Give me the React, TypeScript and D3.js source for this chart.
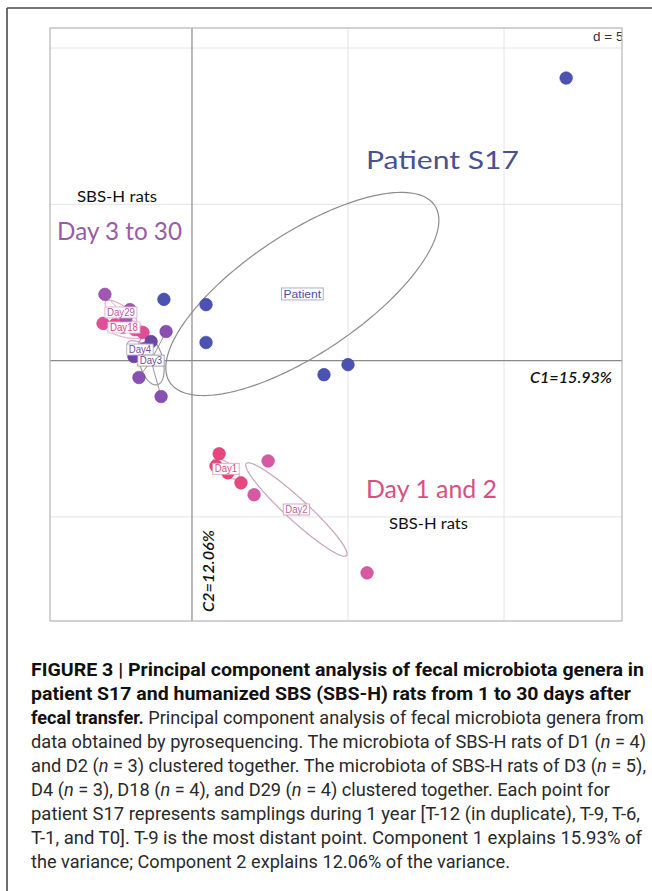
import React from 'react';
import * as d3 from 'd3';

// ---------- data (PCA coordinates, units of the d = 5 grid) ----------
const patientX = [-0.9, 0.45, 0.45, 11.99, 4.23, 5.0];
const patientY = [1.96, 1.79, 0.58, 9.04, -0.45, -0.13];
const day1X = [0.87, 1.15, 1.57, 0.77];
const day1Y = [-2.98, -3.59, -3.91, -3.37];
const day2X = [2.44, 1.99, 5.61];
const day2Y = [-3.21, -4.29, -6.79];
const day3X = [-0.83, -1.7, -0.99, -1.51, -1.54];
const day3Y = [0.93, -0.54, -1.15, 0.38, 0.38];
const day4X = [-1.31, -1.83, -1.86];
const day4Y = [0.61, 0.32, 0.13];
const day18X = [-2.85, -2.47, -1.57, -1.83];
const day18Y = [1.19, 1.15, 0.9, 0.99];
const day29X = [-2.79, -1.99, -2.12, -2.21];
const day29Y = [2.12, 1.63, 1.35, 1.06];

const groupLabels = ['Patient', 'Day1', 'Day2', 'Day3', 'Day4', 'Day18', 'Day29'];
const groupXs = [patientX, day1X, day2X, day3X, day4X, day18X, day29X];
const groupYs = [patientY, day1Y, day2Y, day3Y, day4Y, day18Y, day29Y];
// ellipse semi-axes and orientation (degrees)
const ellipseA = [5.1, 0.5, 2.18, 0.8, 0.45, 0.75, 0.6];
const ellipseB = [1.92, 0.2, 0.35, 0.38, 0.2, 0.3, 0.22];
const ellipseAngle = [33.7, -35, -42.5, -75, -30, -15, -35];
const gridStep = 5;

const captionLines = [
  '**FIGURE 3 | Principal component analysis of fecal microbiota genera in**',
  '**patient S17 and humanized SBS (SBS-H) rats from 1 to 30 days after**',
  '**fecal transfer.** Principal component analysis of fecal microbiota genera from',
  'data obtained by pyrosequencing. The microbiota of SBS-H rats of D1 (_n_ = 4)',
  'and D2 (_n_ = 3) clustered together. The microbiota of SBS-H rats of D3 (_n_ = 5),',
  'D4 (_n_ = 3), D18 (_n_ = 4), and D29 (_n_ = 4) clustered together. Each point for',
  'patient S17 represents samplings during 1 year [T-12 (in duplicate), T-9, T-6,',
  'T-1, and T0]. T-9 is the most distant point. Component 1 explains 15.93% of',
  'the variance; Component 2 explains 12.06% of the variance.',
];

// ---------- styles ----------
const pointColors = ['#4b52b4', '#e8467c', '#d659a4', '#8a4fb2', '#6a46a6', '#e24d98', '#a355b3'];
const textColors = ['#4a509e', '#d9507f', '#c25f9c', '#6a4a9a', '#7a4aa0', '#d24a8a', '#b45aa6'];
const ellipseColors = ['#8c8c8c', '#e3a6c0', '#c9a2bb', '#9a9a9a', '#b9a3cc', '#e8b7d2', '#d8b0d0'];
const starGroups = [3, 4, 5, 6];
const captionRight = [644, 631, 644, 646, 646, 610, 640, 642, 510];

const W = 652;
const H = 891;
const plot = { left: 50, right: 622, top: 28, bottom: 621 };

const xs = d3.scaleLinear().domain([-4.55, 13.78]).range([plot.left, plot.right]);
const ys = d3.scaleLinear().domain([-8.33, 10.64]).range([plot.bottom, plot.top]);

function ellipsePath(cx: number, cy: number, a: number, b: number, angDeg: number) {
  const th = (angDeg * Math.PI) / 180;
  const pts: [number, number][] = d3.range(0, 2 * Math.PI + 0.001, Math.PI / 90).map((t) => {
    const dx = a * Math.cos(t);
    const dy = b * Math.sin(t);
    const X = cx + dx * Math.cos(th) - dy * Math.sin(th);
    const Y = cy + dx * Math.sin(th) + dy * Math.cos(th);
    return [xs(X), ys(Y)];
  });
  return d3.line().curve(d3.curveLinearClosed)(pts) || '';
}

function parseLine(line: string) {
  const parts = line.split(/(\*\*[^*]+\*\*|_[^_]+_)/).filter((p) => p.length);
  return parts.map((p) => {
    if (p.startsWith('**')) return { t: p.slice(2, -2), w: 'bold', s: 'normal' };
    if (p.startsWith('_')) return { t: p.slice(1, -1), w: 'normal', s: 'italic' };
    return { t: p, w: 'normal', s: 'normal' };
  });
}

export default function App() {
  const xTicks = d3.range(Math.ceil(xs.domain()[0] / gridStep) * gridStep, xs.domain()[1], gridStep);
  const yTicks = d3.range(Math.ceil(ys.domain()[0] / gridStep) * gridStep, ys.domain()[1], gridStep);
  const groups = groupLabels.map((lab, i) => {
    const cx = d3.mean(groupXs[i]) as number;
    const cy = d3.mean(groupYs[i]) as number;
    return { lab, i, cx, cy, pts: groupXs[i].map((x, k) => [x, groupYs[i][k]]) };
  });
  const drawOrder = [6, 5, 4, 3, 1, 2, 0];
  const bigFont = "Lato, 'Open Sans', sans-serif";
  return (
    <svg width={W} height={H} style={{ position: 'absolute', left: 0, top: 0, background: '#fff' }}>
      <defs>
        <clipPath id="plotclip">
          <rect x={plot.left} y={plot.top} width={plot.right - plot.left} height={plot.bottom - plot.top} />
        </clipPath>
      </defs>
      <rect x={0} y={0} width={W} height={H} fill="#fff" />
      {/* figure frame */}
      <line x1={7} y1={8} x2={W} y2={8} stroke="#4a4a4a" strokeWidth={1.6} />
      <line x1={7} y1={8} x2={7} y2={H} stroke="#4a4a4a" strokeWidth={1.6} />

      <g clipPath="url(#plotclip)">
        {/* grid */}
        {xTicks.filter((v) => v !== 0).map((v) => (
          <line key={'gx' + v} x1={xs(v)} x2={xs(v)} y1={plot.top} y2={plot.bottom} stroke="#e4e4e4" strokeWidth={1} />
        ))}
        {yTicks.filter((v) => v !== 0).map((v) => (
          <line key={'gy' + v} x1={plot.left} x2={plot.right} y1={ys(v)} y2={ys(v)} stroke="#e4e4e4" strokeWidth={1} />
        ))}
        <line x1={xs(0)} x2={xs(0)} y1={plot.top} y2={plot.bottom} stroke="#8a8a8a" strokeWidth={1.2} />
        <line x1={plot.left} x2={plot.right} y1={ys(0)} y2={ys(0)} stroke="#8a8a8a" strokeWidth={1.2} />

        {/* ellipses */}
        {groups.map((g) => (
          <path key={'e' + g.lab} d={ellipsePath(g.cx, g.cy, ellipseA[g.i], ellipseB[g.i], ellipseAngle[g.i])}
            fill="none" stroke={ellipseColors[g.i]} strokeWidth={1.2} />
        ))}
        {/* stars */}
        {groups.filter((g) => starGroups.includes(g.i)).map((g) =>
          g.pts.map((p, k) => (
            <line key={'s' + g.lab + k} x1={xs(p[0])} y1={ys(p[1])} x2={xs(g.cx)} y2={ys(g.cy)}
              stroke={ellipseColors[g.i]} strokeWidth={1} />
          ))
        )}
        {/* points */}
        {drawOrder.map((gi) =>
          groups[gi].pts.map((p, k) => (
            <circle key={'p' + gi + '-' + k} cx={xs(p[0])} cy={ys(p[1])} r={6.3}
              fill={pointColors[gi]} stroke={d3.color(pointColors[gi])!.darker(0.4).toString()} strokeWidth={0.6} />
          ))
        )}
        {/* labels */}
        {drawOrder.map((gi) => {
          const g = groups[gi];
          const fs = gi === 0 ? 10.5 : 10;
          const w = g.lab.length * (gi === 0 ? 5.4 : 5.6) + 4;
          const h = gi === 0 ? 12 : 11;
          return (
            <g key={'l' + g.lab}>
              <rect x={xs(g.cx) - w / 2} y={ys(g.cy) - h / 2} width={w} height={h} fill="#fff"
                stroke={gi === 0 ? '#a5a7c4' : ellipseColors[gi]} strokeWidth={0.9} />
              <text x={xs(g.cx)} y={ys(g.cy) + 3.6} textAnchor="middle" fontFamily="'Liberation Sans', Arial, sans-serif"
                fontSize={fs} fill={textColors[gi]} textLength={w - 4} lengthAdjust="spacingAndGlyphs">{g.lab}</text>
            </g>
          );
        })}
        <text x={593} y={41} fontFamily="'Liberation Sans', Arial, sans-serif" fontSize={13.5} fill="#333">d = 5</text>
      </g>
      <rect x={plot.left} y={plot.top} width={plot.right - plot.left} height={plot.bottom - plot.top}
        fill="none" stroke="#b4b4b4" strokeWidth={1.2} />

      {/* annotations */}
      <text x={366} y={169} fontFamily={bigFont} fontSize={25} fill="#4a5192" textLength={153} lengthAdjust="spacingAndGlyphs">Patient S17</text>
      <text x={77} y={202} fontFamily={bigFont} fontSize={15.5} fill="#111" textLength={80} lengthAdjust="spacingAndGlyphs">SBS-H rats</text>
      <text x={57} y={240} fontFamily={bigFont} fontSize={25} fill="#9a5ca8" textLength={125} lengthAdjust="spacingAndGlyphs">Day 3 to 30</text>
      <text x={366} y={498} fontFamily={bigFont} fontSize={24.5} fill="#d9507f" textLength={131} lengthAdjust="spacingAndGlyphs">Day 1 and 2</text>
      <text x={389} y={529} fontFamily={bigFont} fontSize={15.5} fill="#111" textLength={79} lengthAdjust="spacingAndGlyphs">SBS-H rats</text>
      <text x={530} y={383} fontFamily={bigFont} fontSize={15} fontStyle="italic" fontWeight={600} fill="#111" textLength={82} lengthAdjust="spacingAndGlyphs">C1=15.93%</text>
      <text transform="translate(214,612) rotate(-90)" fontFamily={bigFont} fontSize={15} fontStyle="italic" fontWeight={600} fill="#111" textLength={82} lengthAdjust="spacingAndGlyphs">C2=12.06%</text>

      {/* caption */}
      {captionLines.map((line, li) => (
        <text key={'c' + li} x={31} y={676 + li * 24} fontFamily="'Liberation Sans Narrow', Roboto, 'Liberation Sans', sans-serif"
          fontSize={17.5} fill="#222" textLength={captionRight[li] - 31} lengthAdjust="spacingAndGlyphs">
          {parseLine(line).map((p, k) => (
            <tspan key={k} fontWeight={p.w} fontStyle={p.s} fill={p.w === 'bold' ? '#111' : '#2a2a2a'}>{p.t}</tspan>
          ))}
        </text>
      ))}
    </svg>
  );
}
